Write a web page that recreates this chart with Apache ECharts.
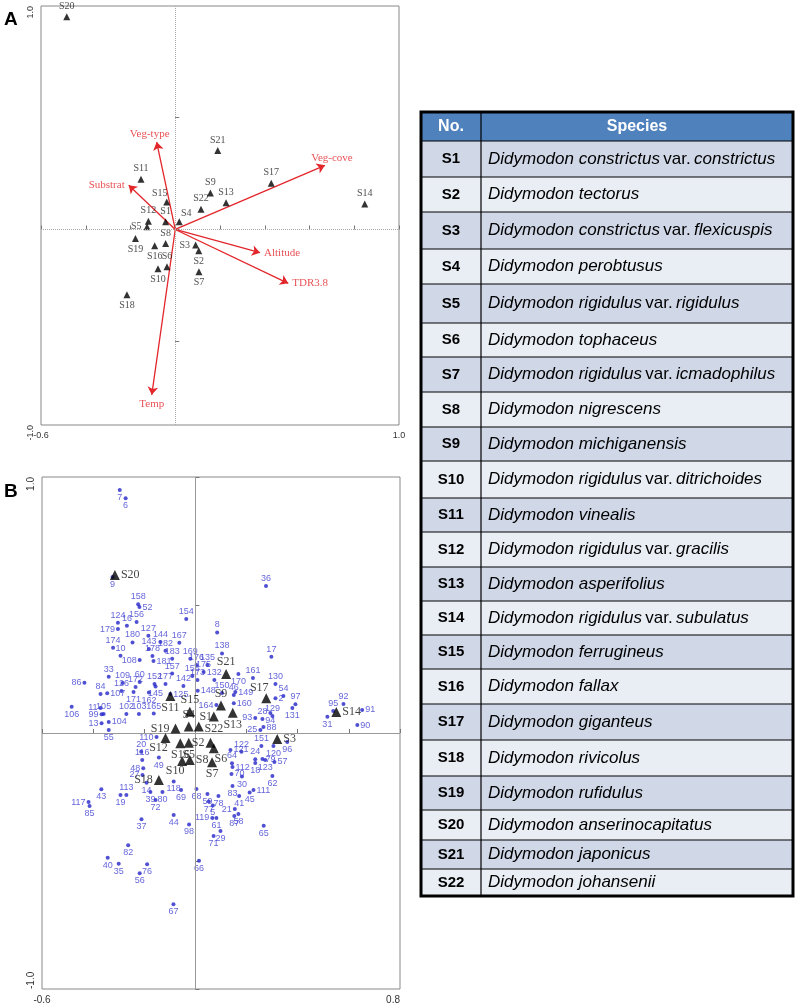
<!DOCTYPE html>
<html><head><meta charset="utf-8">
<script src="https://cdn.jsdelivr.net/npm/echarts@6/dist/echarts.min.js"></script>
<style>html,body{margin:0;padding:0;background:#fff;}#c{width:800px;height:1006px;}</style>
</head><body><div id="c"></div>
<script>
// ---------- Panel A: species scores ----------
const speciesNames = ['S1','S2','S3','S4','S5','S6','S7','S8','S9','S10','S11','S12','S13','S14','S15','S16','S17','S18','S19','S20','S21','S22'];
const aSpeciesX = [-0.043,0.105,0.091,0.018,-0.126,-0.037,0.106,-0.043,0.157,-0.077,-0.153,-0.120,0.227,0.847,-0.038,-0.092,0.429,-0.216,-0.178,-0.485,0.190,0.115];
const aSpeciesY = [0.034,-0.095,-0.070,0.034,0.012,-0.167,-0.189,-0.063,0.163,-0.176,0.225,0.037,0.120,0.114,0.123,-0.073,0.207,-0.292,-0.040,0.952,0.353,0.091];
// ---------- Panel A: environmental arrows ----------
const envNames = ['Veg-type','Substrat','Veg-cove','Altitude','TDR3.8','Temp'];
const envX = [-0.083,-0.208,0.669,0.379,0.505,-0.105];
const envY = [0.391,0.198,0.287,-0.104,-0.241,-0.740];
// ---------- Panel B: species scores ----------
const bSpeciesX = [0.013,0.059,0.320,-0.026,-0.026,0.072,0.065,-0.022,0.100,-0.052,-0.098,-0.117,0.146,0.551,-0.022,-0.059,0.277,-0.143,-0.078,-0.315,0.120,0.072];
const bSpeciesY = [0.025,-0.038,-0.023,0.025,-0.038,-0.060,-0.114,-0.105,0.107,-0.109,0.145,-0.020,0.079,0.082,0.083,-0.040,0.136,-0.184,0.018,0.617,0.230,0.064];
// ---------- Panel B: sample scores ----------
const sampleIds = [
 7,6,9,158,52,124,156,16,179,127,
 180,144,167,154,8,36,138,174,143,178,
 182,10,183,169,176,135,108,181,157,175,
 155,173,132,161,170,130,17,33,109,60,
 172,152,177,86,84,126,107,145,171,162,
 125,148,150,46,149,54,2,97,92,95,
 91,31,90,164,160,129,28,93,94,88,
 25,131,99,11,105,13,104,55,106,102,
 103,165,142,110,20,116,49,48,27,14,
 113,43,117,85,19,39,80,72,118,69,
 68,59,77,78,5,21,41,45,83,30,
 111,62,57,79,120,96,151,121,122,24,
 64,112,18,123,70,87,58,119,61,29,
 71,98,44,37,82,40,35,76,56,66,
 67,65];
const sampleX = [
 -0.296,-0.273,-0.324,-0.224,-0.219,-0.303,-0.230,-0.268,-0.303,-0.184,
 -0.246,-0.137,-0.063,-0.036,0.085,0.276,0.104,-0.322,-0.182,-0.168,
 -0.117,-0.293,-0.091,-0.020,0.004,0.047,-0.218,-0.164,-0.091,0.032,
 -0.012,0.008,0.074,0.225,0.168,0.313,0.297,-0.339,-0.285,-0.218,
 -0.234,-0.160,-0.117,-0.434,-0.371,-0.289,-0.345,-0.156,-0.242,-0.182,
 -0.098,0.009,0.104,0.150,0.156,0.344,0.313,0.391,0.579,0.539,
 0.652,0.516,0.633,0.082,0.150,0.301,0.262,0.234,0.293,0.266,
 0.254,0.379,-0.367,-0.371,-0.359,-0.367,-0.339,-0.339,-0.484,-0.270,
 -0.221,-0.163,-0.047,-0.152,-0.212,-0.208,-0.143,-0.204,-0.207,-0.191,
 -0.270,-0.368,-0.418,-0.414,-0.293,-0.176,-0.129,-0.156,-0.085,-0.056,
 0.004,0.047,0.052,0.090,0.068,0.154,0.171,0.212,0.145,0.182,
 0.227,0.301,0.309,0.262,0.305,0.359,0.258,0.137,0.180,0.234,
 0.143,0.145,0.234,0.273,0.141,0.152,0.168,0.066,0.082,0.098,
 0.071,-0.025,-0.085,-0.211,-0.263,-0.343,-0.300,-0.189,-0.218,0.014,
 -0.086,0.267];
const sampleY = [
 0.949,0.917,0.609,0.503,0.492,0.431,0.434,0.419,0.406,0.380,
 0.354,0.355,0.353,0.445,0.393,0.574,0.311,0.333,0.328,0.301,
 0.321,0.302,0.290,0.290,0.266,0.266,0.285,0.281,0.232,0.238,
 0.223,0.207,0.207,0.215,0.230,0.191,0.298,0.220,0.195,0.199,
 0.180,0.191,0.191,0.196,0.152,0.164,0.155,0.182,0.160,0.158,
 0.152,0.165,0.156,0.148,0.160,0.145,0.136,0.112,0.113,0.086,
 0.090,0.063,0.031,0.109,0.116,0.066,0.055,0.059,0.078,0.023,
 0.012,0.098,0.073,0.098,0.074,0.038,0.043,0.012,0.103,0.074,
 0.074,0.076,0.184,-0.016,-0.073,-0.105,-0.096,-0.138,-0.164,-0.194,
 -0.242,-0.220,-0.270,-0.285,-0.242,-0.230,-0.230,-0.262,-0.189,-0.223,
 -0.219,-0.238,-0.268,-0.246,-0.283,-0.297,-0.246,-0.232,-0.207,-0.170,
 -0.223,-0.168,-0.113,-0.102,-0.051,-0.035,-0.051,-0.066,-0.073,-0.103,
 -0.118,-0.133,-0.117,-0.105,-0.160,-0.324,-0.316,-0.332,-0.332,-0.383,
 -0.402,-0.357,-0.320,-0.337,-0.438,-0.487,-0.511,-0.513,-0.548,-0.499,
 -0.669,-0.362];
// ---------- Table ----------
const tableHeader = ['No.','Species'];
const tableSpecies = [
 'Didymodon constrictus var. constrictus','Didymodon tectorus','Didymodon constrictus var. flexicuspis',
 'Didymodon perobtusus','Didymodon rigidulus var. rigidulus','Didymodon tophaceus',
 'Didymodon rigidulus var. icmadophilus','Didymodon nigrescens','Didymodon michiganensis',
 'Didymodon rigidulus var. ditrichoides','Didymodon vinealis','Didymodon rigidulus var. gracilis',
 'Didymodon asperifolius','Didymodon rigidulus var. subulatus','Didymodon ferrugineus',
 'Didymodon fallax','Didymodon giganteus','Didymodon rivicolus','Didymodon rufidulus',
 'Didymodon anserinocapitatus','Didymodon japonicus','Didymodon johansenii'];

// ---------- label placement styles (not data) ----------
const sampleLabelPos = [
 'b','b','b','t','r','t','t','tr','l','t',
 't','t','t','t','t','t','t','t','t','tl',
 't','t','t','t','t','t','l','r','t','t',
 't','t','t','t','b','t','t','tl','t','t',
 't','t','t','l','t','t','r','b','b','b',
 'r','r','t','t','r','t','r','tr','tr','t',
 'r','b','r','l','r','t','t','l','b','r',
 'l','b','l','l','tr','l','r','b','b','t',
 't','t','t','l','tl','tl','bl','l','l','b',
 't','b','l','b','b','b','b','b','b','b',
 'b','br','bl','b','b','l','b','b','br','b',
 'r','br','r','r','b','b','t','r','tr','tr',
 'tr','r','b','b','r','bl','br','l','b','b',
 'b','b','b','b','b','b','b','b','b','b',
 'b','b'];
const aSpeciesLabelPos = ['t','b','l','tr','l','t','b','t','t','b','t','t','t','t','tl','b','t','b','b','t','t','t'];
const bSpeciesLabelPos = ['tr','l','r','t','b','br','b','r','t','bl','b','bl','b','r','t','b','tl','l','l','r','t','b'];
const envLabelPos = ['tl','l','tr','r','r','b'];

function lab(code, dist) {
  const d = dist == null ? 2 : dist;
  switch (code) {
    case 't': return {position:'top', distance:d};
    case 'b': return {position:'bottom', distance:d};
    case 'l': return {position:'left', distance:d};
    case 'r': return {position:'right', distance:d};
    case 'tr': return {position:'top', distance:d, offset:[7,2]};
    case 'tl': return {position:'top', distance:d, offset:[-7,2]};
    case 'br': return {position:'bottom', distance:d, offset:[7,-2]};
    case 'bl': return {position:'bottom', distance:d, offset:[-7,-2]};
  }
  return {position:'top', distance:d};
}

const RED = '#e3262b';
const BLUE = '#2424c8';
const SERIF = '"Liberation Serif","Times New Roman",serif';
const SANS = '"Liberation Sans",Arial,sans-serif';

const chart = echarts.init(document.getElementById('c'), null, {renderer:'canvas'});

function endFmt(lo, hi, loTxt, hiTxt) {
  return function (v) {
    if (Math.abs(v - lo) < 1e-6) return loTxt;
    if (Math.abs(v - hi) < 1e-6) return hiTxt;
    return '';
  };
}

const axisCommon = {
  axisLine: {show:false},
  splitLine: {show:false},
  axisTick: {show:true, inside:true, length:4, lineStyle:{color:'#777'}},
};

// ---- table graphics ----
const tblL = 421, tblR = 793, colSplit = 481, headTop = 112;
const rowBounds = [141,177,212,249,284,323,357,392,427,461,498,532,567,601,635,669,704,740,776,810,840,869,896];
const graphics = [];
graphics.push({type:'rect', shape:{x:tblL, y:headTop, width:tblR-tblL, height:rowBounds[0]-headTop}, style:{fill:'#4f81bd'}});
for (let i = 0; i < speciesNames.length; i++) {
  const y0 = rowBounds[i], y1 = rowBounds[i+1];
  graphics.push({type:'rect', shape:{x:tblL, y:y0, width:tblR-tblL, height:y1-y0}, style:{fill: i % 2 === 0 ? '#d0d8e8' : '#e9edf4'}});
}
for (let i = 0; i < rowBounds.length; i++) {
  graphics.push({type:'line', shape:{x1:tblL, y1:rowBounds[i], x2:tblR, y2:rowBounds[i]}, style:{stroke:'#000', lineWidth:1.2}});
}
graphics.push({type:'line', shape:{x1:colSplit, y1:headTop, x2:colSplit, y2:rowBounds[rowBounds.length-1]}, style:{stroke:'#000', lineWidth:1.2}});
graphics.push({type:'rect', shape:{x:tblL, y:headTop, width:tblR-tblL, height:rowBounds[rowBounds.length-1]-headTop}, style:{fill:'none', stroke:'#000', lineWidth:3}});
graphics.push({type:'text', x:(tblL+colSplit)/2, y:(headTop+rowBounds[0])/2, style:{text:tableHeader[0], fill:'#fff', font:'bold 16px '+SANS, align:'center', verticalAlign:'middle'}});
graphics.push({type:'text', x:(colSplit+tblR)/2, y:(headTop+rowBounds[0])/2, style:{text:tableHeader[1], fill:'#fff', font:'bold 16px '+SANS, align:'center', verticalAlign:'middle'}});
for (let i = 0; i < speciesNames.length; i++) {
  const yc = (rowBounds[i] + rowBounds[i+1]) / 2;
  graphics.push({type:'text', x:(tblL+colSplit)/2, y:yc, style:{text:speciesNames[i], fill:'#000', font:'bold 15px '+SANS, align:'center', verticalAlign:'middle'}});
  const parts = tableSpecies[i].split(' var. ');
  const rt = parts.length > 1 ? '{i|' + parts[0] + '} {n|var.} {i|' + parts[1] + '}' : '{i|' + parts[0] + '}';
  graphics.push({type:'text', x:colSplit+7, y:yc, style:{text:rt, align:'left', verticalAlign:'middle',
    rich:{i:{fontStyle:'italic', fontSize:17, fontFamily:SANS, fill:'#000', color:'#000'}, n:{fontSize:17, fontFamily:SANS, fill:'#000', color:'#000'}}}});
}
graphics.push({type:'text', x:4, y:10, style:{text:'A', font:'bold 19px '+SANS, fill:'#000'}});
graphics.push({type:'text', x:4, y:482, style:{text:'B', font:'bold 19px '+SANS, fill:'#000'}});

const aMinY = -0.875;

const option = {
  animation: false,
  backgroundColor: '#fff',
  grid: [
    {left:41, top:6, width:358, height:419, show:true, borderColor:'#888', borderWidth:1, backgroundColor:'transparent'},
    {left:42, top:477, width:358, height:512, show:true, borderColor:'#888', borderWidth:1, backgroundColor:'transparent'}
  ],
  xAxis: [
    Object.assign({}, axisCommon, {type:'value', gridIndex:0, min:-0.6, max:1.0, interval:0.2,
      axisLabel:{fontSize:9, color:'#333', fontFamily:SANS, margin:6, formatter:endFmt(-0.6,1.0,'-0.6','1.0'), showMinLabel:true, showMaxLabel:true}}),
    Object.assign({}, axisCommon, {type:'value', gridIndex:1, min:-0.6, max:0.8, interval:0.2,
      axisLabel:{fontSize:10, color:'#333', fontFamily:SANS, margin:6, formatter:endFmt(-0.6,0.8,'-0.6','0.8'), showMinLabel:true, showMaxLabel:true, alignMaxLabel:'right'}})
  ],
  yAxis: [
    Object.assign({}, axisCommon, {type:'value', gridIndex:0, min:aMinY, max:1.0,
      axisTick:{show:true, inside:true, length:4, lineStyle:{color:'#777'}, customValues:[-0.5,0,0.5]},
      axisLabel:{fontSize:9, color:'#333', fontFamily:SANS, rotate:90, margin:6, customValues:[aMinY,1.0],
        formatter:endFmt(aMinY,1.0,'-1.0','1.0'), alignMinLabel:'right', alignMaxLabel:'right'}}),
    Object.assign({}, axisCommon, {type:'value', gridIndex:1, min:-1.0, max:1.0, interval:0.5,
      axisLabel:{fontSize:10, color:'#333', fontFamily:SANS, rotate:90, margin:6,
        formatter:endFmt(-1.0,1.0,'-1.0','1.0'), alignMinLabel:'left', alignMaxLabel:'right'}})
  ],
  graphic: graphics,
  series: [
    {type:'line', xAxisIndex:0, yAxisIndex:0, data:[], silent:true,
      markLine:{silent:true, symbol:'none', label:{show:false},
        lineStyle:{color:'#aaa', type:'dotted', width:1},
        data:[{xAxis:0},{yAxis:0}]}},
    {type:'lines', coordinateSystem:'cartesian2d', xAxisIndex:0, yAxisIndex:0, silent:true,
      symbol:['none','arrow'], symbolSize:8,
      lineStyle:{color:RED, width:1.3, opacity:1},
      data: envNames.map((n,i) => ({coords:[[0,0],[envX[i],envY[i]]]}))},
    {type:'scatter', xAxisIndex:0, yAxisIndex:0, symbolSize:0, silent:true,
      data: envNames.map((n,i) => ({name:n, value:[envX[i],envY[i]],
        label: Object.assign({show:true, formatter:'{b}', color:RED, fontSize:11, fontFamily:SERIF}, lab(envLabelPos[i],4))}))},
    {type:'scatter', xAxisIndex:0, yAxisIndex:0, symbol:'triangle', symbolSize:7, itemStyle:{color:'#000'}, silent:true,
      data: speciesNames.map((n,i) => ({name:n, value:[aSpeciesX[i],aSpeciesY[i]],
        label: Object.assign({show:true, formatter:'{b}', color:'#222', fontSize:10, fontFamily:SERIF}, lab(aSpeciesLabelPos[i],2))}))},
    {type:'line', xAxisIndex:1, yAxisIndex:1, data:[], silent:true,
      markLine:{silent:true, symbol:'none', label:{show:false},
        lineStyle:{color:'#999', type:'solid', width:1},
        data:[{xAxis:0},{yAxis:0}]}},
    {type:'scatter', xAxisIndex:1, yAxisIndex:1, symbol:'circle', symbolSize:4, itemStyle:{color:BLUE}, silent:true,
      labelLayout:{hideOverlap:false},
      data: sampleIds.map((id,i) => ({name:String(id), value:[sampleX[i],sampleY[i]],
        label: Object.assign({show:true, formatter:'{b}', color:'#3c3cd0', fontSize:9, fontFamily:SANS}, lab(sampleLabelPos[i],1))}))},
    {type:'scatter', xAxisIndex:1, yAxisIndex:1, symbol:'triangle', symbolSize:10, itemStyle:{color:'#000'}, silent:true, z:5,
      data: speciesNames.map((n,i) => ({name:n, value:[bSpeciesX[i],bSpeciesY[i]],
        label: Object.assign({show:true, formatter:'{b}', color:'#111', fontSize:12, fontFamily:SERIF}, lab(bSpeciesLabelPos[i],1))}))}
  ]
};
chart.setOption(option);
</script></body></html>
